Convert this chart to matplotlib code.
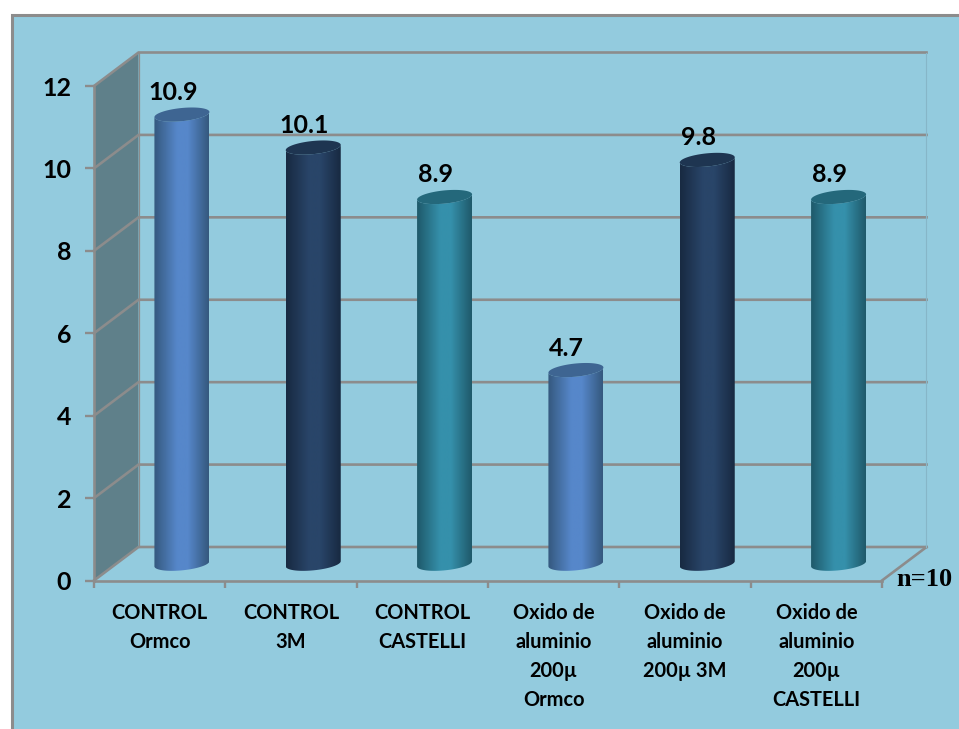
import numpy as np
import matplotlib
matplotlib.use("Agg")
import matplotlib.pyplot as plt
from matplotlib.patches import Polygon, Rectangle
from matplotlib.colors import LinearSegmentedColormap

categories = [
    "CONTROL\nOrmco",
    "CONTROL\n3M",
    "CONTROL\nCASTELLI",
    "Oxido de\naluminio\n200µ\nOrmco",
    "Oxido de\naluminio\n200µ 3M",
    "Oxido de\naluminio\n200µ\nCASTELLI",
]
values = [10.9, 10.1, 8.9, 4.7, 9.8, 8.9]
value_labels = ["10.9", "10.1", "8.9", "4.7", "9.8", "8.9"]
y_ticks = [0, 2, 4, 6, 8, 10, 12]

# edge, centre, cap colours for each cylinder
blue = ("#35597f", "#5687ca", "#3e6592")
navy = ("#182a42", "#294569", "#1e3551")
teal = ("#1f5a6b", "#3590ab", "#24687b")
bar_styles = [blue, navy, teal, blue, navy, teal]

BG = "#93cbde"
WALL = "#5f808a"
GRID = "#8c8c8c"
W, H = 959, 729
DPI = 100

fig = plt.figure(figsize=(W / DPI, H / DPI), dpi=DPI, facecolor="white")
fig.patches.append(Rectangle((12 / W, -0.05), 1.0, 1.05 - 14.5 / H, transform=fig.transFigure,
                             facecolor=BG, edgecolor=GRID, linewidth=2.2, zorder=-1))

# Front plane of the 3-D box
left, right, top, bottom = 94, 882, 86, 580.5
ax = fig.add_axes([left / W, 1 - bottom / H, (right - left) / W, (bottom - top) / H])
ax.set_xlim(0, 6)
ax.set_ylim(0, 12)
ax.patch.set_visible(False)

px_x = 6 / (right - left)
px_y = 12 / (bottom - top)
depth_x = 44.5 * px_x
depth_y = 33.5 * px_y

# Side wall, floor and back-plane gridlines
ax.add_patch(Polygon([(0, 0), (depth_x, depth_y), (depth_x, 12 + depth_y), (0, 12)],
                     closed=True, facecolor=WALL, edgecolor="none", zorder=1, clip_on=False))
for t in y_ticks:
    ax.plot([0, depth_x, 6 + depth_x], [t, t + depth_y, t + depth_y], color=GRID, lw=1.9,
            zorder=2, clip_on=False, solid_joinstyle="miter")
ax.plot([6, 6 + depth_x], [0, depth_y], color=GRID, lw=1.9, zorder=2, clip_on=False)
ax.plot([6 + depth_x] * 2, [depth_y, 12 + depth_y], color="#86b6c8", lw=0.8, zorder=2, clip_on=False)
ax.plot([depth_x] * 2, [depth_y, 12 + depth_y], color=GRID, lw=0.9, zorder=2, clip_on=False)

# Cylinders
half_w = 27.5 * px_x
cap_h = 6.6 * px_y
tilt = 2.6 * px_y
theta = np.linspace(0, 2 * np.pi, 121)
front = np.linspace(np.pi, 2 * np.pi, 61)
shade = np.interp(np.linspace(0, 1, 64), [0, 0.42, 0.62, 1], [0, 1 / 3, 2 / 3, 1])[None, :]


def rim(cx, level, angles):
    return (cx + half_w * np.cos(angles),
            level + cap_h * np.sin(angles) + tilt * np.cos(angles))


for i, (val, style) in enumerate(zip(values, bar_styles)):
    cx = i + 0.5 + depth_x / 2
    base = depth_y / 2
    bx, by = rim(cx, base, front)
    tx, ty = rim(cx, base + val, front[::-1])
    body = Polygon(np.column_stack([np.r_[bx, tx], np.r_[by, ty]]), closed=True,
                   facecolor="none", edgecolor="none", zorder=3)
    ax.add_patch(body)
    cmap = LinearSegmentedColormap.from_list("c", [style[0], style[1], style[1], style[0]])
    img = ax.imshow(shade, cmap=cmap, vmin=0, vmax=1, aspect="auto", interpolation="bilinear",
                    extent=[cx - half_w, cx + half_w, base - 1, base + val + 1], zorder=3)
    img.set_clip_path(body)
    capx, capy = rim(cx, base + val, theta)
    ax.add_patch(Polygon(np.column_stack([capx, capy]), closed=True, facecolor=style[2],
                         edgecolor="none", zorder=4))
    # Value labels sit a little left of the cylinder axis
    ax.text(cx - 9 * px_x, base + val + 22 * px_y, value_labels[i], ha="center", va="center",
            fontsize=18, family="Lato", weight="bold", color="black", zorder=5)

ax.set_xlim(0, 6)
ax.set_ylim(0, 12)

# Axes, ticks and labels
for side in ("top", "right"):
    ax.spines[side].set_visible(False)
for side in ("left", "bottom"):
    ax.spines[side].set_color(GRID)
    ax.spines[side].set_linewidth(1.9)
    ax.spines[side].set_zorder(2)
ax.set_yticks(y_ticks)
ax.set_yticklabels([str(t) for t in y_ticks], family="Lato", weight="bold", fontsize=18)
ax.set_xticks(range(7))
ax.set_xticklabels([])
ax.set_xticks(np.arange(6) + 0.5, minor=True)
ax.set_xticklabels(categories, minor=True, family="Lato", weight="bold", fontsize=14.4,
                   linespacing=1.57)
ax.tick_params(axis="y", length=6.5, width=1.7, color=GRID, pad=10, labelcolor="black")
ax.tick_params(axis="x", which="major", length=5, width=1.7, color=GRID)
ax.tick_params(axis="x", which="minor", length=0, pad=16, labelcolor="black")

fig.text(924 / W, 1 - 580 / H, "n=10", ha="center", va="center", family="Liberation Serif",
         weight="bold", fontsize=19, color="black")

fig.savefig("out.png", dpi=DPI)
